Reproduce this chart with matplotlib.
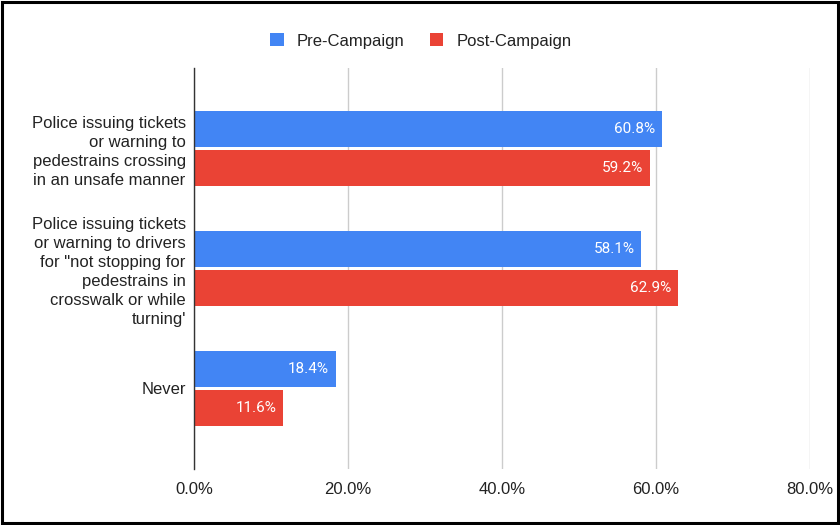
import matplotlib
matplotlib.use("Agg")
import matplotlib.pyplot as plt
from matplotlib.patches import Rectangle
from matplotlib.ticker import FuncFormatter
import numpy as np

categories = [
    "Police issuing tickets\nor warning to\npedestrains crossing\nin an unsafe manner",
    "Police issuing tickets\nor warning to drivers\nfor \"not stopping for\npedestrains in\ncrosswalk or while\nturning'",
    "Never",
]
pre_campaign = [60.8, 58.1, 18.4]
post_campaign = [59.2, 62.9, 11.6]
series_names = ["Pre-Campaign", "Post-Campaign"]
x_ticks = [0, 20, 40, 60, 80]

BLUE = "#4285F4"
RED = "#EA4335"
TXT = "#222222"

fig = plt.figure(figsize=(8.4, 5.25), dpi=100)
ax = fig.add_axes([194/840, 56/525, (810-194)/840, (469-68)/525])

y = np.arange(len(categories))
h = 0.3
off = 0.1625
b1 = ax.barh(y - off, pre_campaign, height=h, color=BLUE, label=series_names[0], zorder=3)
b2 = ax.barh(y + off, post_campaign, height=h, color=RED, label=series_names[1], zorder=3)

for bars, vals in ((b1, pre_campaign), (b2, post_campaign)):
    for rect, v in zip(bars, vals):
        ax.annotate(f"{v:.1f}%", xy=(v, rect.get_y() + rect.get_height()/2),
                    xytext=(-5, 0), textcoords="offset points",
                    ha="right", va="center", color="white", fontsize=11,
                    family="Roboto", zorder=4)

ax.set_xlim(0, 80)
ax.set_ylim(2.671, -0.671)
ax.set_xticks(x_ticks)
ax.xaxis.set_major_formatter(FuncFormatter(lambda v, p: f"{v:.1f}%"))
ax.set_yticks(y)
ax.set_yticklabels(categories, fontsize=12, family="Liberation Sans", color=TXT,
                   linespacing=1.33)
for lab in ax.get_xticklabels():
    lab.set_fontsize(12)
    lab.set_family("Liberation Sans")
    lab.set_color(TXT)
ax.tick_params(axis="both", length=0)
ax.tick_params(axis="x", pad=9)
ax.tick_params(axis="y", pad=6)
ax.grid(axis="x", color="#cccccc", linewidth=1, zorder=0)
for s in ["top", "right", "bottom"]:
    ax.spines[s].set_visible(False)
ax.spines["left"].set_color("#333333")
ax.spines["left"].set_linewidth(1)
ax.spines["left"].set_zorder(5)

leg = fig.legend(handles=[b1, b2], labels=series_names, loc="center",
                 bbox_to_anchor=(421/840, 1 - 41/525), ncol=2, frameon=False,
                 handlelength=0.8, handleheight=0.8, handletextpad=0.8,
                 columnspacing=1.5, prop={"family": "Liberation Sans", "size": 12})
for t in leg.get_texts():
    t.set_color(TXT)

fig.patches.append(Rectangle((0.002, 0.003), 0.996, 0.994, transform=fig.transFigure,
                             fill=False, edgecolor="black", linewidth=2.2))

fig.savefig("out.png", dpi=100)
